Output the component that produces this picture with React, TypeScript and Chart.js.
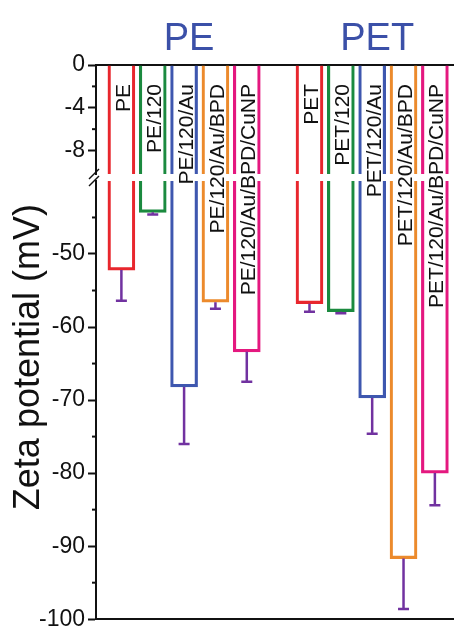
import React, { useEffect, useRef } from 'react';
import { Chart, registerables } from 'chart.js';

Chart.register(...registerables);

// ---------- data ----------
const groupNames = ['PE', 'PET'];
const peLabels = ['PE', 'PE/120', 'PE/120/Au', 'PE/120/Au/BPD', 'PE/120/Au/BPD/CuNP'];
const petLabels = ['PET', 'PET/120', 'PET/120/Au', 'PET/120/Au/BPD', 'PET/120/Au/BPD/CuNP'];
const peSlots = [0, 1, 2, 3, 4];
const petSlots = [6, 7, 8, 9, 10];
const peValues = [-52.2, -44.3, -68.2, -56.6, -63.4];
const peErrors = [4.2, 0.3, 7.8, 0.9, 4.1];
const petValues = [-56.8, -57.9, -69.7, -91.7, -80.0];
const petErrors = [1.1, 0.2, 4.9, 6.9, 4.4];
const topTicks = [0, -4, -8];
const topMinorTicks = [-2, -6];
const bottomTicks = [-50, -60, -70, -80, -90, -100];
const bottomMinorTicks = [-45, -55, -65, -75, -85, -95];
const topRange = [-10.2, 0];
const bottomRange = [-100, -40];
const barColors = ['#E8262D', '#1B8A3F', '#3E57AF', '#EC8A2C', '#E4187F'];
const yTitle = 'Zeta potential (mV)';

const FONT = "'Liberation Sans', Arial, Helvetica, sans-serif";
const ERR_COLOR = '#7132A0';
const HEAD_COLOR = '#3B50A8';

export default function App() {
  const ref = useRef<HTMLCanvasElement | null>(null);

  useEffect(() => {
    const canvas = ref.current;
    if (!canvas) return;

    const slots = [...peSlots, ...petSlots];
    const values = [...peValues, ...petValues];
    const errors = [...peErrors, ...petErrors];
    const labels = [...peLabels, ...petLabels];
    const colors = [...barColors, ...barColors];
    const points = slots.map((s, i) => ({ x: s, y: values[i] }));

    const barStyle = {
      backgroundColor: 'rgba(255,255,255,0)',
      borderColor: colors,
      borderWidth: 2.5,
      borderSkipped: 'start' as const,
      barThickness: 27,
      grouped: false,
    };

    const yCommon = (ticks: number[]) => ({
      type: 'linear' as const,
      position: 'left' as const,
      stack: 'y',
      afterBuildTicks: (s: any) => {
        s.ticks = ticks.map((v) => ({ value: v }));
      },
      afterFit: (s: any) => {
        s.width = 96;
      },
      ticks: {
        color: '#111',
        padding: 3,
        autoSkip: false,
        font: { family: FONT, size: 23 },
      },
      grid: {
        display: true,
        drawOnChartArea: false,
        drawTicks: true,
        tickLength: 8,
        tickColor: '#111',
        tickWidth: 2,
      },
      border: { display: true, color: '#111', width: 2 },
    });

    const xCommon = (position: 'top' | 'bottom') => ({
      type: 'linear' as const,
      position,
      min: -0.81,
      max: 10.61,
      offset: false,
      grid: { display: false, drawTicks: false, offset: false },
      ticks: { display: false },
      border: { display: true, color: '#111', width: 2 },
      afterFit: (s: any) => {
        s.height = 0;
      },
    });

    const decorations = {
      id: 'decorations',
      afterDatasetsDraw(chart: any) {
        const ctx = chart.ctx;
        const xs = chart.scales.x;
        const yT = chart.scales.yTop;
        const yB = chart.scales.yBot;
        const area = chart.chartArea;

        // error bars (lower segment)
        ctx.save();
        ctx.strokeStyle = ERR_COLOR;
        ctx.lineWidth = 2.5;
        slots.forEach((s, i) => {
          const x = xs.getPixelForValue(s);
          const y1 = yB.getPixelForValue(values[i]);
          const y2 = yB.getPixelForValue(values[i] - errors[i]);
          ctx.beginPath();
          ctx.moveTo(x, y1);
          ctx.lineTo(x, y2);
          ctx.moveTo(x - 5.5, y2);
          ctx.lineTo(x + 5.5, y2);
          ctx.stroke();
        });
        ctx.restore();

        // minor ticks
        ctx.save();
        ctx.strokeStyle = '#111';
        ctx.lineWidth = 2;
        const minor = (scale: any, vals: number[]) => {
          vals.forEach((v) => {
            const y = scale.getPixelForValue(v);
            ctx.beginPath();
            ctx.moveTo(scale.right - 4, y);
            ctx.lineTo(scale.right, y);
            ctx.stroke();
          });
        };
        minor(yT, topMinorTicks);
        minor(yB, bottomMinorTicks);

        // axis break marks
        ctx.lineWidth = 1.5;
        const ax = yT.right - 1;
        [yT.bottom, yB.top].forEach((yy: number) => {
          ctx.beginPath();
          ctx.moveTo(ax - 6, yy + 5);
          ctx.lineTo(ax + 4, yy - 5);
          ctx.stroke();
        });
        ctx.restore();

        // bar labels (vertical text)
        ctx.save();
        ctx.fillStyle = '#111';
        const fs = 21;
        ctx.font = `${fs}px ${FONT}`;
        ctx.textAlign = 'right';
        ctx.textBaseline = 'alphabetic';
        const yStart = yT.getPixelForValue(0) + 19;
        slots.forEach((s, i) => {
          const x = xs.getPixelForValue(s);
          ctx.save();
          ctx.translate(x, yStart);
          ctx.rotate(-Math.PI / 2);
          ctx.fillText(labels[i], 0, fs * 0.36 + 1);
          ctx.restore();
        });
        ctx.restore();

        // group headers
        ctx.save();
        ctx.fillStyle = HEAD_COLOR;
        ctx.font = `38px ${FONT}`;
        ctx.textAlign = 'center';
        ctx.textBaseline = 'alphabetic';
        [peSlots, petSlots].forEach((g, gi) => {
          const mid = (g[0] + g[g.length - 1]) / 2;
          const x = xs.getPixelForValue(mid) + 5;
          ctx.fillText(groupNames[gi], x, area.top - 15);
        });
        ctx.restore();

        // y-axis title spanning both segments
        ctx.save();
        ctx.fillStyle = '#111';
        ctx.font = `36px ${FONT}`;
        ctx.textAlign = 'center';
        ctx.textBaseline = 'alphabetic';
        ctx.translate(39, (area.top + area.bottom) / 2 + 15);
        ctx.rotate(-Math.PI / 2);
        ctx.fillText(yTitle, 0, 0);
        ctx.restore();
      },
    };

    const chart = new Chart(canvas, {
      type: 'bar',
      data: {
        datasets: [
          { label: 'upper', data: points, xAxisID: 'x', yAxisID: 'yTop', ...barStyle } as any,
          { label: 'lower', data: points, xAxisID: 'x', yAxisID: 'yBot', ...barStyle } as any,
        ],
      },
      options: {
        responsive: false,
        animation: false,
        layout: { padding: { left: 0, right: 0, top: 65, bottom: 7 } },
        plugins: {
          legend: { display: false },
          tooltip: { enabled: false },
          title: { display: false },
        },
        scales: {
          x: xCommon('bottom') as any,
          x2: xCommon('top') as any,
          yTop: {
            ...yCommon(topTicks),
            min: topRange[0],
            max: topRange[1],
            stackWeight: 111,
            weight: 3,
          } as any,
          yGap: {
            type: 'linear',
            position: 'left',
            stack: 'y',
            stackWeight: 7,
            weight: 2,
            display: false,
            min: 0,
            max: 1,
          } as any,
          yBot: {
            ...yCommon(bottomTicks),
            min: bottomRange[0],
            max: bottomRange[1],
            stackWeight: 446,
            weight: 1,
          } as any,
        },
      },
      plugins: [decorations],
    });

    return () => chart.destroy();
  }, []);

  return (
    <div style={{ position: 'fixed', left: 0, top: 0, width: 454, height: 636, background: '#fff' }}>
      <canvas ref={ref} width={454} height={636} style={{ display: 'block' }} />
    </div>
  );
}
